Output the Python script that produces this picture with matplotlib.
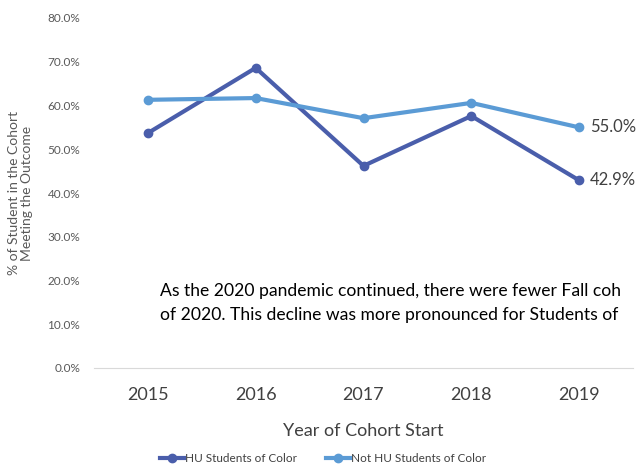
import numpy as np
import matplotlib.pyplot as plt
from matplotlib.ticker import PercentFormatter

plt.rcParams['font.family'] = ['Lato', 'DejaVu Sans']

years = ['2015', '2016', '2017', '2018', '2019']
hu_soc = [53.7, 68.6, 46.2, 57.6, 42.9]
not_hu_soc = [61.3, 61.7, 57.1, 60.6, 55.0]

# the note runs off the right edge in the original, only the visible part is kept
note = ("As the 2020 pandemic continued, there were fewer Fall coh\n"
        "of 2020. This decline was more pronounced for Students of")

dark = '#4a5eab'
light = '#5b9bd5'

fig = plt.figure(figsize=(6.39, 4.66), dpi=100)
ax = fig.add_axes([94 / 639, 1 - 368 / 466, 539 / 639, 350 / 466])

x = np.arange(len(years))
ax.plot(x, hu_soc, color=dark, lw=3, marker='o', ms=6, label='HU Students of Color')
ax.plot(x, not_hu_soc, color=light, lw=3, marker='o', ms=6, label='Not HU Students of Color')

ax.text(x[-1] + 0.1, hu_soc[-1], f'{hu_soc[-1]:.1f}%', va='center', ha='left',
        fontsize=12, color='#404040')
ax.text(x[-1] + 0.1, not_hu_soc[-1], f'{not_hu_soc[-1]:.1f}%', va='center', ha='left',
        fontsize=12, color='#404040')

ax.set_xlim(-0.5, 4.5)
ax.set_ylim(0, 80)
ax.set_yticks(np.arange(0, 81, 10))
ax.yaxis.set_major_formatter(PercentFormatter(decimals=1))
ax.set_xticks(x)
ax.set_xticklabels(years)

for s in ['top', 'right', 'left']:
    ax.spines[s].set_visible(False)
ax.spines['bottom'].set_color('#d9d9d9')
ax.tick_params(axis='both', length=0)
ax.tick_params(axis='y', labelsize=8.5, labelcolor='#595959', pad=10)
ax.tick_params(axis='x', labelsize=13, labelcolor='#404040', pad=14)

ax.set_xlabel('Year of Cohort Start', fontsize=13, color='#404040', labelpad=14)
ax.set_ylabel('% of Student in the Cohort\nMeeting the Outcome', fontsize=10,
              color='#595959', labelpad=10, linespacing=1.1)

fig.text(160 / 639, 1 - 303 / 466, note, fontsize=12.6, color='black',
         va='center', ha='left', linespacing=1.65)

fig.legend(*ax.get_legend_handles_labels(), loc='center',
           bbox_to_anchor=(323 / 639, 1 - 459 / 466), ncol=2, frameon=False,
           fontsize=8.5, handlelength=2, handletextpad=0.1, columnspacing=2.5,
           labelcolor='#404040', borderpad=0)

fig.savefig('out.png', dpi=100)
